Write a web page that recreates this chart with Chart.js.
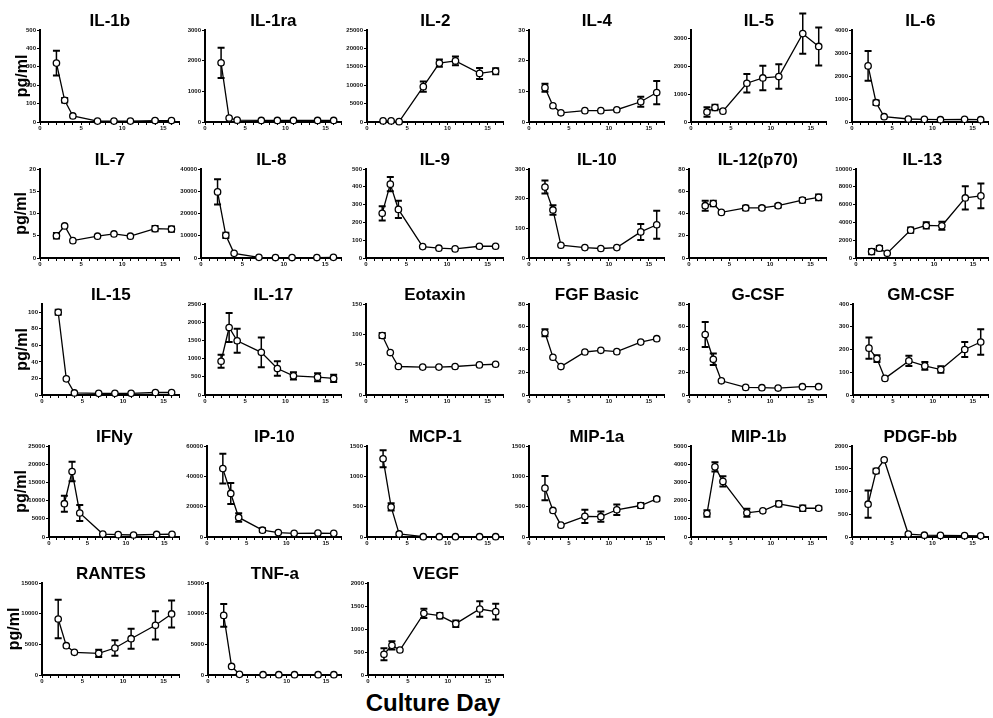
<!DOCTYPE html>
<html lang="en">
<head>
<meta charset="UTF-8">
<title>Cytokine levels by culture day</title>
<style>
    body {
        margin: 0;
        background: white;
        font-family: "Liberation Sans", Arial, sans-serif;
    }
    #grid {
        position: relative;
        width: 993px;
        height: 718px;
    }
    #grid canvas {
        position: absolute;
    }
    #xlabel {
        position: absolute;
        left: 333px;
        top: 691px;
        width: 200px;
        text-align: center;
        font-weight: bold;
        font-size: 24px;
        line-height: 24px;
        color: #000;
    }
</style>
<script src="https://cdn.jsdelivr.net/npm/chart.js"></script>
</head>
<body>
<div id="grid">
    <div id="xlabel">Culture Day</div>
</div>

<script>
// sampling days (x values shared by every panel)
const days = [2, 3, 4, 7, 9, 11, 14, 16];

// mean concentrations (pg/ml) and SEM per analyte
const il1b = [320, 118, 33, 5, 5, 5, 8, 8];
const il1bSem = [67, 12, 0, 0, 0, 0, 4, 4];
const il1ra = [1930, 130, 60, 50, 50, 50, 50, 50];
const il1raSem = [495, 0, 0, 0, 0, 0, 0, 0];
const il2 = [300, 300, 100, 9600, 16000, 16600, 13200, 13800];
const il2Sem = [0, 0, 0, 1400, 1000, 1200, 1500, 800];
const il4 = [11.2, 5.3, 3.0, 3.7, 3.7, 4.0, 6.6, 9.6];
const il4Sem = [1.3, 0, 0, 0, 0, 0, 1.6, 3.8];
const il5 = [360, 520, 390, 1390, 1580, 1630, 3170, 2710];
const il5Sem = [170, 100, 0, 330, 440, 440, 720, 680];
const il6 = [2440, 840, 230, 130, 115, 100, 115, 100];
const il6Sem = [650, 100, 0, 0, 0, 0, 0, 0];

const il7 = [5.0, 7.2, 3.9, 4.9, 5.4, 4.9, 6.6, 6.5];
const il7Sem = [0.6, 0, 0, 0, 0, 0, 0.6, 0.6];
const il8 = [29700, 10200, 2100, 300, 200, 200, 200, 300];
const il8Sem = [5700, 1200, 0, 0, 0, 0, 0, 0];
const il9 = [251, 415, 273, 64, 55, 51, 66, 66];
const il9Sem = [40, 40, 48, 0, 0, 0, 0, 0];
const il10 = [239, 162, 43, 35, 32, 35, 88, 112];
const il10Sem = [22, 16, 0, 0, 0, 0, 27, 47];
const il12 = [47, 49, 41, 45, 45, 47, 52, 54.5];
const il12Sem = [4.5, 2.5, 0, 2, 1.5, 1.5, 2, 2.5];
const il13 = [720, 1100, 530, 3130, 3660, 3620, 6750, 6980];
const il13Sem = [300, 250, 0, 300, 350, 450, 1300, 1400];

const il15 = [100, 19.5, 2.5, 2, 2, 2, 3, 3];
const il15Sem = [3, 0, 0, 0, 0, 0, 0, 0];
const il17 = [927, 1855, 1490, 1173, 727, 527, 490, 455];
const il17Sem = [180, 400, 330, 410, 200, 100, 110, 100];
const eotaxin = [98, 70, 47, 46, 46, 47, 49.6, 50.7];
const eotaxinSem = [4, 0, 0, 0, 0, 0, 0, 0];
const fgfBasic = [54.7, 33.2, 25, 37.8, 39.3, 38.1, 46.5, 49.5];
const fgfBasicSem = [3, 0, 0, 0, 0, 0, 0, 0];
const gcsf = [53.2, 31.4, 12.5, 6.7, 6.4, 6.1, 7.3, 7.3];
const gcsfSem = [11, 5, 0, 0, 0, 0, 0, 0];
const gmcsf = [206, 160, 73, 150, 128, 112, 200, 233];
const gmcsfSem = [47, 15, 0, 22, 17, 14, 33, 56];

const ifny = [9150, 18000, 6600, 800, 650, 550, 700, 750];
const ifnySem = [2200, 2700, 2200, 0, 0, 0, 0, 0];
const ip10 = [45100, 28700, 12900, 4500, 2900, 2400, 2600, 2400];
const ip10Sem = [9800, 6900, 2800, 1200, 0, 0, 0, 0];
const mcp1 = [1289, 495, 50, 5, 5, 5, 5, 5];
const mcp1Sem = [140, 60, 0, 0, 0, 0, 0, 0];
const mip1a = [805, 438, 195, 340, 335, 449, 519, 627];
const mip1aSem = [200, 0, 0, 110, 85, 85, 40, 30];
const mip1b = [1290, 3855, 3055, 1330, 1440, 1820, 1580, 1580];
const mip1bSem = [180, 250, 280, 220, 0, 150, 150, 100];
const pdgfbb = [721, 1450, 1697, 65, 40, 35, 30, 25];
const pdgfbbSem = [300, 50, 0, 0, 0, 0, 0, 0];

const rantes = [9130, 4780, 3700, 3530, 4400, 5920, 8100, 9950];
const rantesSem = [3130, 0, 0, 600, 1250, 1640, 2300, 2200];
const tnfa = [9720, 1390, 110, 50, 50, 50, 50, 50];
const tnfaSem = [1850, 0, 0, 0, 0, 0, 0, 0];
const vegf = [450, 645, 543, 1340, 1290, 1116, 1435, 1377];
const vegfSem = [130, 90, 0, 100, 60, 70, 170, 170];

const cytokines = [
    'IL-1b', 'IL-1ra', 'IL-2', 'IL-4', 'IL-5', 'IL-6',
    'IL-7', 'IL-8', 'IL-9', 'IL-10', 'IL-12(p70)', 'IL-13',
    'IL-15', 'IL-17', 'Eotaxin', 'FGF Basic', 'G-CSF', 'GM-CSF',
    'IFNy', 'IP-10', 'MCP-1', 'MIP-1a', 'MIP-1b', 'PDGF-bb',
    'RANTES', 'TNF-a', 'VEGF'
];
const means = [
    il1b, il1ra, il2, il4, il5, il6,
    il7, il8, il9, il10, il12, il13,
    il15, il17, eotaxin, fgfBasic, gcsf, gmcsf,
    ifny, ip10, mcp1, mip1a, mip1b, pdgfbb,
    rantes, tnfa, vegf
];
const sems = [
    il1bSem, il1raSem, il2Sem, il4Sem, il5Sem, il6Sem,
    il7Sem, il8Sem, il9Sem, il10Sem, il12Sem, il13Sem,
    il15Sem, il17Sem, eotaxinSem, fgfBasicSem, gcsfSem, gmcsfSem,
    ifnySem, ip10Sem, mcp1Sem, mip1aSem, mip1bSem, pdgfbbSem,
    rantesSem, tnfaSem, vegfSem
];

// y axis range and tick step per panel
const yMax = [500, 3000, 25000, 30, 3300, 4000,
              20, 40000, 500, 300, 80, 10000,
              110, 2500, 150, 80, 80, 400,
              25000, 60000, 1500, 1500, 5000, 2000,
              15000, 15000, 2000];
const yStep = [100, 1000, 5000, 10, 1000, 1000,
               5, 10000, 100, 100, 20, 2000,
               20, 500, 50, 20, 20, 100,
               5000, 20000, 500, 500, 1000, 500,
               5000, 5000, 500];

// page layout of the panel grid (pixels)
const rowTop = [30, 169, 304, 446, 583];
const rowBottom = [122, 258, 395, 537, 675];
const colRight = [181, 343, 505, 666, 828, 990];
const axisLeft = [40, 205, 367, 529, 691, 852,
                  40, 201, 366, 529, 689, 856,
                  42, 205, 366, 529, 689, 853,
                  49, 207, 367, 529, 691, 852,
                  42, 208, 368];
const unitLabelX = [23, 22, 23, 22, 15];   // centre of the "pg/ml" label per row
const TITLE_H = 18;
const XAXIS_H = 12;
const PAD_R = 4;
const FONT = '"Liberation Sans", Arial, sans-serif';

// vertical SEM bars with caps, drawn under the markers
const errorBars = {
    id: 'errorBars',
    beforeDatasetsDraw(chart) {
        const {ctx, scales: {x, y}} = chart;
        ctx.save();
        ctx.strokeStyle = '#000';
        chart.data.datasets.forEach(ds => {
            ds.data.forEach((p, k) => {
                const e = ds.sem[k];
                if (!e) return;
                const px = x.getPixelForValue(p.x);
                const hi = y.getPixelForValue(p.y + e);
                const lo = y.getPixelForValue(p.y - e);
                ctx.lineWidth = 1.5;
                ctx.beginPath();
                ctx.moveTo(px, hi);
                ctx.lineTo(px, lo);
                ctx.stroke();
                ctx.lineWidth = 2;
                ctx.beginPath();
                ctx.moveTo(px - 3.5, hi);
                ctx.lineTo(px + 3.5, hi);
                ctx.moveTo(px - 3.5, lo);
                ctx.lineTo(px + 3.5, lo);
                ctx.stroke();
            });
        });
        ctx.restore();
    }
};

const grid = document.getElementById('grid');

cytokines.forEach((name, i) => {
    const row = Math.floor(i / 6);
    const col = i % 6;
    const axisX = axisLeft[i];
    const yw = col === 0 ? axisX : 34;
    const width = yw + colRight[col] - axisX + PAD_R;
    const height = TITLE_H + rowBottom[row] - rowTop[row] + XAXIS_H;

    const canvas = document.createElement('canvas');
    canvas.width = width;
    canvas.height = height;
    canvas.style.left = (axisX - yw) + 'px';
    canvas.style.top = (rowTop[row] - TITLE_H) + 'px';
    canvas.style.width = width + 'px';
    canvas.style.height = height + 'px';
    grid.appendChild(canvas);

    const step = yStep[i];
    const top = yMax[i];
    const tickFont = {family: FONT, size: 6, weight: 'bold'};

    new Chart(canvas, {
        type: 'line',
        data: {
            datasets: [{
                data: days.map((d, k) => ({x: d, y: means[i][k]})),
                sem: sems[i],
                borderColor: '#000',
                borderWidth: 1.3,
                pointRadius: 3.2,
                pointBackgroundColor: '#fff',
                pointBorderColor: '#000',
                pointBorderWidth: 1.3,
                tension: 0,
                clip: false
            }]
        },
        options: {
            responsive: false,
            animation: false,
            devicePixelRatio: 1,
            layout: {padding: {left: 0, top: 0, right: PAD_R, bottom: 0}},
            plugins: {
                legend: {display: false},
                tooltip: {enabled: false},
                title: {
                    display: true,
                    text: name,
                    fullSize: false,
                    color: '#000',
                    padding: 0,
                    font: {family: FONT, size: 17, weight: 'bold', lineHeight: '18px'}
                }
            },
            scales: {
                x: {
                    type: 'linear',
                    min: 0,
                    max: 17,
                    grid: {drawOnChartArea: false, tickLength: 3, color: '#000', lineWidth: 1},
                    border: {color: '#000', width: 2},
                    ticks: {
                        stepSize: 1,
                        autoSkip: false,
                        maxRotation: 0,
                        padding: 0,
                        color: '#111',
                        font: tickFont,
                        callback: v => (v % 5 === 0 ? v : '')
                    },
                    afterFit: s => { s.height = XAXIS_H; }
                },
                y: {
                    min: 0,
                    max: top,
                    grid: {drawOnChartArea: false, tickLength: 3, color: '#000', lineWidth: 1},
                    border: {color: '#000', width: 2},
                    ticks: {
                        stepSize: step,
                        padding: 1,
                        color: '#111',
                        font: tickFont,
                        callback: v => String(v)
                    },
                    // major ticks only at whole multiples of the step
                    afterBuildTicks: s => {
                        const list = [];
                        for (let n = 0; n * step <= top + 1e-9; n++) list.push({value: n * step});
                        s.ticks = list;
                    },
                    afterFit: s => { s.width = yw; },
                    title: {
                        display: col === 0,
                        text: 'pg/ml',
                        color: '#000',
                        padding: {top: unitLabelX[row] - 8, bottom: 0},
                        font: {family: FONT, size: 16, weight: 'bold', lineHeight: '16px'}
                    }
                }
            }
        },
        plugins: [errorBars]
    });
});
</script>
</body>
</html>
